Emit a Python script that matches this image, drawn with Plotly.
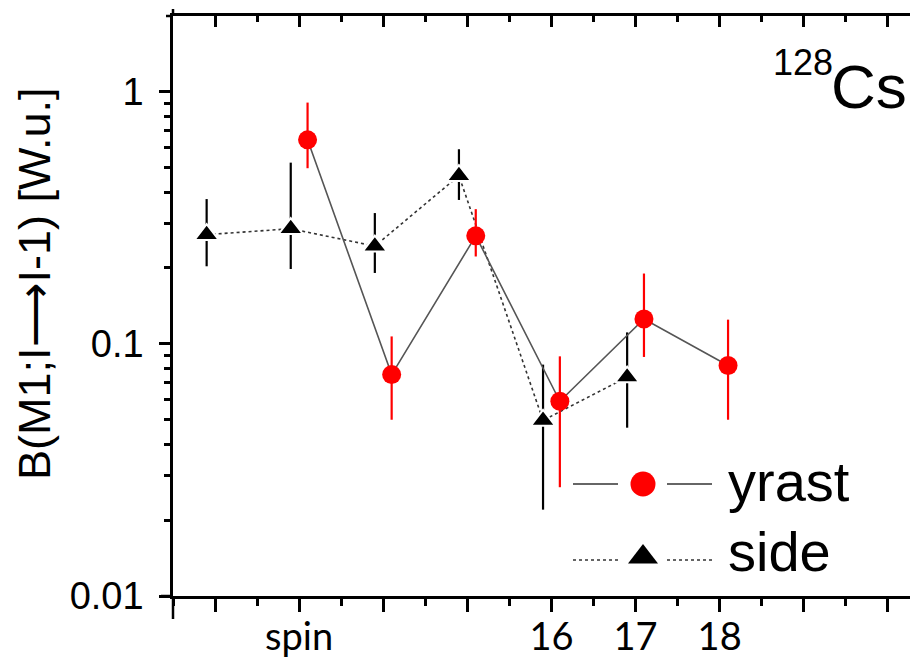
import plotly.graph_objects as go

# ---------------- data ----------------
yrast_spin = [13, 14, 15, 16, 17, 18]
yrast_b = [0.644, 0.0755, 0.268, 0.0592, 0.1255, 0.082]
yrast_hi = [0.905, 0.107, 0.342, 0.0892, 0.19, 0.1247]
yrast_lo = [0.497, 0.050, 0.222, 0.027, 0.0887, 0.050]

side_spin = [12, 13, 14, 15, 16, 17]
side_b = [0.271, 0.286, 0.244, 0.464, 0.0497, 0.0738]
side_hi = [0.375, 0.523, 0.330, 0.591, 0.0827, 0.111]
side_lo = [0.203, 0.198, 0.191, 0.372, 0.022, 0.0465]

x_tickvals = [12, 13, 14, 15, 16, 17, 18, 19, 20]
x_ticktext = ["", "spin", "", "", "16", "17", "18", "", ""]
y_tickvals = [0.01, 0.1, 1]
y_ticktext = ["0.01", "0.1", "1"]

# ---------------- layout geometry (page pixels) ----------------
O = 8                      # browser body margin
W, H = 918 - O, 658 - O    # figure size
L, R, T, B = 173, 918, 16, 596   # plot area in page pixels
PW, PH = R - L, B - T


def px(x):
    return (x - L) / PW


def py(y):
    return (B - y) / PH


OFF = 0.1  # horizontal offset between the two bands
FONT = "Liberation Sans, Arial, sans-serif"

fig = go.Figure()

# side band
fig.add_trace(go.Scatter(
    x=[s - OFF for s in side_spin], y=side_b, mode="lines+markers",
    line=dict(color="#333333", width=1.6, dash="dot"),
    marker=dict(symbol="triangle-up", size=21, color="black",
                line=dict(color="white", width=2)),
    error_y=dict(type="data", symmetric=False,
                 array=[h - v for h, v in zip(side_hi, side_b)],
                 arrayminus=[v - l for v, l in zip(side_b, side_lo)],
                 color="black", thickness=2.2, width=0),
    showlegend=False,
))

# yrast band
fig.add_trace(go.Scatter(
    x=[s + OFF for s in yrast_spin], y=yrast_b, mode="lines+markers",
    line=dict(color="#555555", width=1.6),
    marker=dict(symbol="circle", size=19, color="#ff0000"),
    error_y=dict(type="data", symmetric=False,
                 array=[h - v for h, v in zip(yrast_hi, yrast_b)],
                 arrayminus=[v - l for v, l in zip(yrast_b, yrast_lo)],
                 color="#ff0000", thickness=2.2, width=0),
    showlegend=False,
))

# invisible trace for the top axis
fig.add_trace(go.Scatter(x=[12], y=[0.1], xaxis="x2", mode="markers",
                         marker=dict(opacity=0), showlegend=False, hoverinfo="skip"))

# custom legend drawn on an overlay axis (0..1 over the plot area)
ly1, ly2 = py(484), py(560)
lmark2 = py(557)
for yy, dash, col in [(ly1, "solid", "#333333"), (ly2, "dot", "#333333")]:
    for xa, xb in [(573, 618), (667, 712)]:
        fig.add_trace(go.Scatter(x=[px(xa), px(xb)], y=[yy, yy], xaxis="x3", yaxis="y3",
                                 mode="lines", line=dict(color=col, width=1.6, dash=dash),
                                 showlegend=False, hoverinfo="skip"))
fig.add_trace(go.Scatter(x=[px(643)], y=[ly1], xaxis="x3", yaxis="y3", mode="markers",
                         marker=dict(symbol="circle", size=25, color="#ff0000"),
                         showlegend=False, hoverinfo="skip"))
fig.add_trace(go.Scatter(x=[px(643)], y=[lmark2], xaxis="x3", yaxis="y3", mode="markers",
                         marker=dict(symbol="triangle-up", size=26, color="black"),
                         showlegend=False, hoverinfo="skip"))

annotations = [
    dict(text="yrast", x=px(726), y=py(481), xref="paper", yref="paper",
         xanchor="left", yanchor="middle", showarrow=False,
         font=dict(family=FONT, size=56, color="black")),
    dict(text="side", x=px(726), y=py(551), xref="paper", yref="paper",
         xanchor="left", yanchor="middle", showarrow=False,
         font=dict(family=FONT, size=56, color="black")),
    dict(text="128", x=px(771), y=py(62), xref="paper", yref="paper",
         xanchor="left", yanchor="middle", showarrow=False,
         font=dict(family=FONT, size=36, color="black")),
    dict(text="Cs", x=px(829), y=py(86), xref="paper", yref="paper",
         xanchor="left", yanchor="middle", showarrow=False,
         font=dict(family=FONT, size=62, color="black")),
    dict(text="B(M1;I\u27f6I-1) [W.u.]", x=0, y=py(284), xref="paper", yref="paper",
         xanchor="center", yanchor="middle", xshift=34 - L, textangle=-90,
         showarrow=False, font=dict(family=FONT, size=45, color="black")),
]

shapes = [
    # axis-line overhangs at the corners
    dict(type="line", xref="paper", yref="paper", x0=0, x1=0, y0=py(596), y1=py(619),
         line=dict(color="black", width=2.5)),
    dict(type="line", xref="paper", yref="paper", x0=px(161), x1=0, y0=0, y1=0,
         line=dict(color="black", width=2.5)),
    dict(type="line", xref="paper", yref="paper", x0=0, x1=0, y0=1, y1=py(9),
         line=dict(color="black", width=2.5)),
    dict(type="line", xref="paper", yref="paper", x0=px(166), x1=0, y0=1, y1=1,
         line=dict(color="black", width=2.5)),
    # right axis inward ticks peeking in at the edge
    dict(type="line", xref="paper", yref="y", x0=px(913), x1=1, y0=1, y1=1,
         line=dict(color="#444444", width=2)),
    dict(type="line", xref="paper", yref="y", x0=px(915), x1=1, y0=0.1, y1=0.1,
         line=dict(color="#444444", width=2)),
]

xr = [11.5, 11.5 + PW / 84.1]

fig.update_layout(
    width=W, height=H,
    margin=dict(l=L - O, r=0, t=T - O, b=658 - B, pad=0, autoexpand=False),
    paper_bgcolor="white", plot_bgcolor="white",
    showlegend=False,
    xaxis=dict(range=xr, showgrid=False, zeroline=False, showline=True, automargin=False,
               linecolor="black", linewidth=2.5,
               tickvals=x_tickvals, ticktext=x_ticktext,
               ticks="outside", ticklen=13, tickwidth=2.5, tickcolor="black",
               minor=dict(dtick=0.5, tick0=11.5, ticks="outside", ticklen=7,
                          tickwidth=2.5, tickcolor="black", showgrid=False),
               tickfont=dict(family="Lato, Carlito, sans-serif", size=38, color="black"),
               ticklabelstandoff=-7),
    xaxis2=dict(range=xr, overlaying="x", side="top", showgrid=False, zeroline=False,
                showline=True, linecolor="black", linewidth=2.5, automargin=False,
                tickvals=x_tickvals, showticklabels=False,
                ticks="inside", ticklen=11, tickwidth=2.5, tickcolor="black",
                minor=dict(dtick=0.5, tick0=11.5, ticks="inside", ticklen=6,
                           tickwidth=2.5, tickcolor="black", showgrid=False)),
    xaxis3=dict(range=[0, 1], overlaying="x", visible=False, automargin=False),
    yaxis=dict(type="log", range=[-2, 0.3], showgrid=False, zeroline=False, automargin=False,
               showline=True, linecolor="black", linewidth=2.5,
               tickvals=y_tickvals, ticktext=y_ticktext,
               ticks="outside", ticklen=11, tickwidth=2.5, tickcolor="black",
               minor=dict(ticks="outside", ticklen=6, tickwidth=2.5,
                          tickcolor="black", dtick="D1", showgrid=False),
               tickfont=dict(family=FONT, size=38, color="black"),
               ticklabelstandoff=8),
    yaxis3=dict(range=[0, 1], overlaying="y", visible=False, automargin=False),
    annotations=annotations,
    shapes=shapes,
)

fig.write_html("out.html")
